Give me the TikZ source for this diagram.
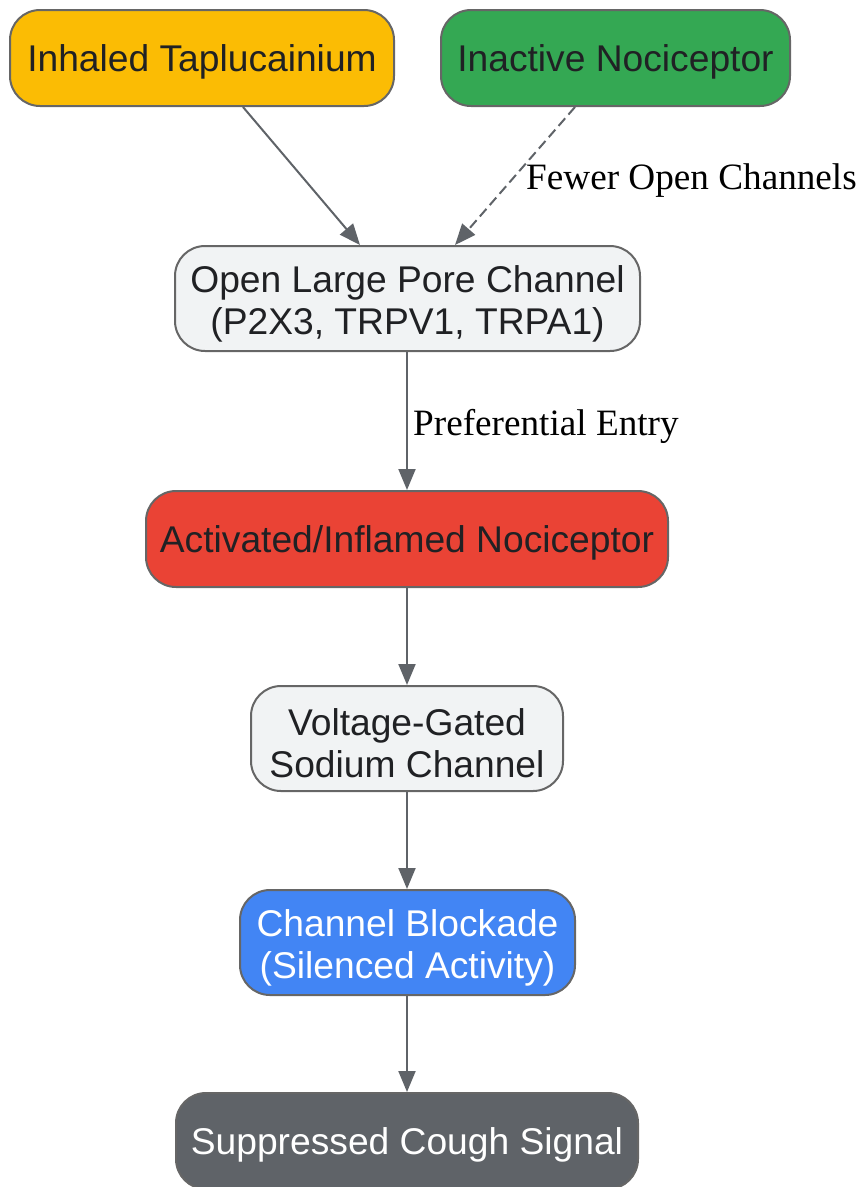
\documentclass[tikz,border=0pt]{standalone}
\usepackage{fontspec}
\setmainfont{Liberation Sans}
\newfontfamily\lblfont{Liberation Serif}
\usetikzlibrary{arrows.meta}
\definecolor{edgegray}{HTML}{5F6368}
\definecolor{bordergray}{HTML}{666666}
\definecolor{cgold}{HTML}{FBBC04}
\definecolor{cgreen}{HTML}{34A853}
\definecolor{clight}{HTML}{F1F3F4}
\definecolor{cred}{HTML}{EA4335}
\definecolor{cblue}{HTML}{4285F4}
\definecolor{cdark}{HTML}{5F6368}
\definecolor{ctext}{HTML}{202124}
\tikzset{
  box/.style={draw=bordergray, line width=2pt, rounded corners=30pt, inner sep=0pt},
  txt/.style={inner sep=0pt, align=center, text=ctext, font=\fontsize{37.2}{42}\selectfont},
  conn/.style={draw=edgegray, line width=2pt, -{Triangle[length=21pt,width=17pt]}},
  lbl/.style={font=\lblfont\fontsize{37.2}{44}\selectfont, text=black, inner sep=0pt, anchor=west}
}
\begin{document}
\begin{tikzpicture}[x=1pt,y=1pt]
\useasboundingbox (0,0) rectangle (859,-1187);
\node[box, fill=cgold, minimum width=384pt, minimum height=96pt] (tap) at (202,-58) {};
\node[txt] (taptxt) at ([yshift=-4pt]tap.center) {Inhaled Taplucainium};
\node[box, fill=cgreen, minimum width=349pt, minimum height=96pt] (inact) at (615.5,-58) {};
\node[txt] (inacttxt) at ([yshift=-4pt]inact.center) {Inactive Nociceptor};
\node[box, fill=clight, minimum width=465pt, minimum height=105pt] (open) at (407.5,-298.5) {};
\node[txt] (opentxt) at ([yshift=-5pt]open.center) {Open Large Pore Channel\\(P2X3, TRPV1, TRPA1)};
\node[box, fill=cred, minimum width=522pt, minimum height=96pt] (act) at (407,-539) {};
\node[txt] (acttxt) at ([yshift=-4pt]act.center) {Activated/Inflamed Nociceptor};
\node[box, fill=clight, minimum width=312pt, minimum height=105pt] (vg) at (407,-738.5) {};
\node[txt] (vgtxt) at ([yshift=-5pt]vg.center) {Voltage-Gated\\Sodium Channel};
\node[box, fill=cblue, minimum width=335pt, minimum height=105pt] (blk) at (407.5,-942.5) {};
\node[txt, text=white] (blktxt) at ([yshift=-5pt]blk.center) {Channel Blockade\\(Silenced Activity)};
\node[box, fill=cdark, minimum width=462pt, minimum height=96pt] (sup) at (407,-1141) {};
\node[txt, text=white] (suptxt) at ([yshift=-4pt]sup.center) {Suppressed Cough Signal};

\draw[conn] ([xshift=41pt]tap.south) -- ([xshift=-47.5pt]open.north);
\draw[conn, dashed, dash pattern=on 10pt off 5pt] ([xshift=-40.5pt]inact.south) -- ([xshift=47.5pt]open.north);
\node[lbl] (lf) at (526,-181) {Fewer Open Channels};
\draw[conn] (open.south -| act.north) -- (act.north);
\node[lbl] (lp) at (413,-426) {Preferential Entry};
\draw[conn] (act.south) -- (vg.north);
\draw[conn] (vg.south) -- (blk.north -| vg.south);
\draw[conn] (blk.south -| sup.north) -- (sup.north);
\end{tikzpicture}
\end{document}
